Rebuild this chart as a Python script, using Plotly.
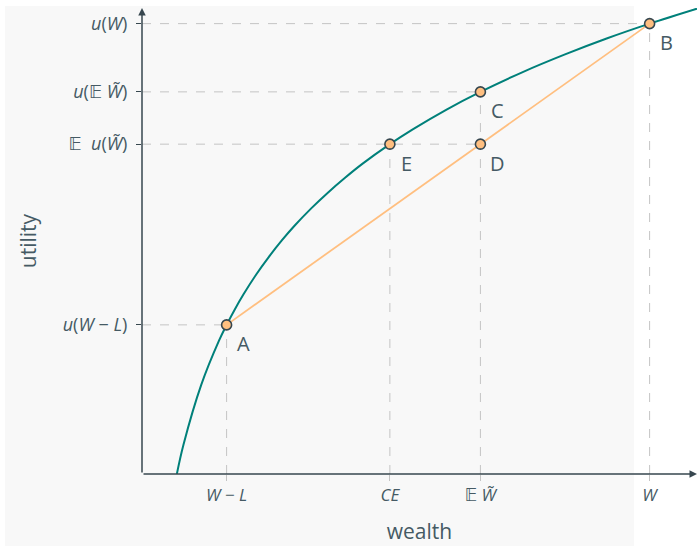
import plotly.graph_objects as go

# utility curve u(w) = ln(w)
wealth = [0.412, 0.49, 0.70, 0.91, 1.0, 1.1, 1.2, 1.35, 1.5, 1.65, 1.8, 2.0, 2.2, 2.4, 2.6, 2.93,
          3.2, 3.6, 4.0, 4.5, 5.0, 5.5, 6.0, 6.56]
utility = [-0.887, -0.713, -0.357, -0.094, 0.0, 0.095, 0.182, 0.300, 0.405, 0.501, 0.588, 0.693,
           0.788, 0.875, 0.956, 1.075, 1.163, 1.281, 1.386, 1.504, 1.609, 1.705, 1.792, 1.881]

# labelled points
pt_names = ['A', 'B', 'C', 'D', 'E']
pt_x = [1.0, 6.0, 4.0, 4.0, 2.93]
pt_y = [0.0, 1.792, 1.386, 1.075, 1.075]

# tick labels
xtick_vals = [1.0, 2.93, 4.0, 6.0]
xtick_text = ['<i>W</i> − <i>L</i>', '<i>CE</i>', '𝔼 <i>W̃</i>', '<i>W</i>']
ytick_vals = [0.0, 1.075, 1.386, 1.792]
ytick_text = ['<i>u</i>(<i>W</i> − <i>L</i>)', '𝔼  <i>u</i>(<i>W̃</i>)', '<i>u</i>(𝔼 <i>W̃</i>)', '<i>u</i>(<i>W</i>)']

x_min, x_max = 0.0, 6.56
y_min, y_max = -0.887, 1.885

ink = '#37474f'
txt = '#455a64'
teal = '#00807a'
orange = '#ffbf80'
guide = '#c4c4c4'

fig = go.Figure()

# chord A-B
fig.add_trace(go.Scatter(x=[pt_x[0], pt_x[1]], y=[pt_y[0], pt_y[1]], mode='lines',
                         line=dict(color=orange, width=1.8), hoverinfo='skip'))
# utility curve
fig.add_trace(go.Scatter(x=wealth, y=utility, mode='lines', line_shape='spline',
                         line=dict(color=teal, width=2), hoverinfo='skip'))
# points
fig.add_trace(go.Scatter(x=pt_x, y=pt_y, mode='markers', cliponaxis=False,
                         marker=dict(size=10, color=orange, line=dict(color=ink, width=1.6)),
                         hoverinfo='skip'))

shapes = []
# grey panel behind
shapes.append(dict(type='rect', xref='paper', yref='paper', x0=-0.2468, x1=0.8865,
                   y0=-0.1545, y1=1.0043, fillcolor='#f8f8f8', line=dict(width=0), layer='below'))
# dashed guides: horizontal to the right-most point at that level, vertical down to axis
for yv in ytick_vals:
    xr = max(px for px, py in zip(pt_x, pt_y) if abs(py - yv) < 1e-9)
    shapes.append(dict(type='line', x0=x_min, x1=xr, y0=yv, y1=yv, layer='below',
                       line=dict(color=guide, width=1, dash='dash')))
for xv in xtick_vals:
    yt = max(py for px, py in zip(pt_x, pt_y) if abs(px - xv) < 1e-9)
    shapes.append(dict(type='line', x0=xv, x1=xv, y0=y_min, y1=yt, layer='below',
                       line=dict(color=guide, width=1, dash='dash')))
fig.update_layout(shapes=shapes)

# point letters
for n, px, py in zip(pt_names, pt_x, pt_y):
    fig.add_annotation(x=px, y=py, text=n, showarrow=False, xshift=17, yshift=-19,
                       font=dict(size=20, color=txt))

# axes with arrow heads
fig.add_annotation(x=x_max, y=y_min, ax=x_min, ay=y_min, axref='x', ayref='y', text='',
                   showarrow=True, arrowhead=2, arrowsize=1, arrowwidth=1.5, arrowcolor=ink)
fig.add_annotation(x=x_min, y=y_max, ax=x_min, ay=y_min, axref='x', ayref='y', text='',
                   showarrow=True, arrowhead=2, arrowsize=1, arrowwidth=1.5, arrowcolor=ink)

fig.update_xaxes(range=[x_min, x_max], tickvals=xtick_vals, ticktext=xtick_text, automargin=False,
                 ticks='outside', ticklen=6, tickcolor=guide, showgrid=False, zeroline=False,
                 showline=False, tickfont=dict(size=17, color=txt),
                 title=dict(text='wealth', font=dict(size=21, color=txt), standoff=18))
fig.update_yaxes(range=[y_min, y_max], tickvals=ytick_vals, ticktext=ytick_text, automargin=False,
                 ticks='outside', ticklen=5, tickcolor=ink, showgrid=False, zeroline=False,
                 showline=False, tickfont=dict(size=18, color=txt), ticklabelstandoff=5,
                 title=dict(text='utility', font=dict(size=21, color=txt), standoff=20))

fig.update_layout(width=700, height=546, showlegend=False,
                  margin=dict(l=142, r=3, t=8, b=72, autoexpand=False),
                  paper_bgcolor='white', plot_bgcolor='rgba(0,0,0,0)',
                  font=dict(family='Open Sans, DejaVu Sans', color=txt))

fig.write_html("out.html", config={'displayModeBar': False},
               post_script="document.body.style.margin='0';")
